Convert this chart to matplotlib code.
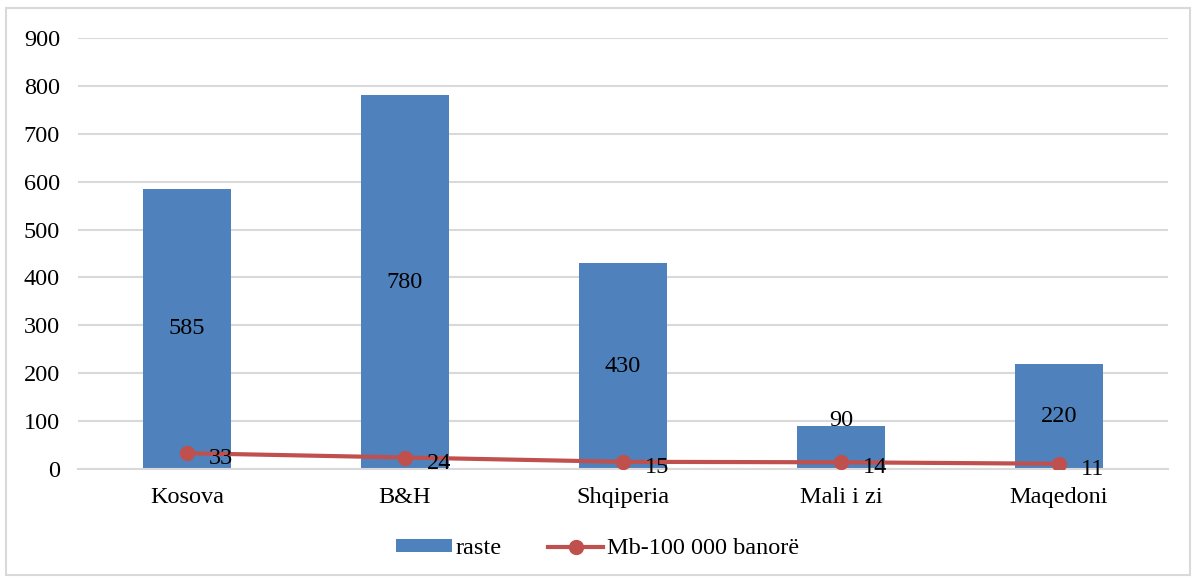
import matplotlib.pyplot as plt
from matplotlib.patches import Rectangle
from matplotlib.lines import Line2D
from matplotlib.patches import Patch

# dati
vendet = ["Kosova", "B&H", "Shqiperia", "Mali i zi", "Maqedoni"]
raste = [585, 780, 430, 90, 220]
mb_100k = [33, 24, 15, 14, 11]

blu = "#4F81BD"
kuq = "#C0504D"
gri = "#D9D9D9"
fs = 17.5

plt.rcParams["font.family"] = ["Liberation Serif", "DejaVu Serif"]

fig = plt.figure(figsize=(11.95, 5.8), dpi=100)
ax = fig.add_axes([78 / 1195, 1 - 469 / 580, (1168 - 78) / 1195, (469 - 38) / 580])

x = range(len(vendet))
ax.bar(x, raste, width=0.4, color=blu, zorder=2)
ax.plot(x, mb_100k, color=kuq, linewidth=3, marker="o", markersize=10, zorder=3)

# etiketat e shtyllave (ne mes), 90 ngrihet mbi vijen
for i, v in enumerate(raste):
    y = v / 2 if v / 2 > 60 else v + 12
    ax.text(i, y, str(v), ha="center", va="center", fontsize=fs, zorder=4)

# etiketat e vijes
for i, v in enumerate(mb_100k):
    ax.annotate(str(v), (i, v), xytext=(16, -4), textcoords="offset points",
                ha="left", va="center", fontsize=fs, zorder=4)

ax.set_ylim(0, 900)
ax.set_yticks(range(0, 901, 100))
ax.set_xlim(-0.5, len(vendet) - 0.5)
ax.set_xticks(list(x))
ax.set_xticklabels(vendet)
ax.tick_params(axis="both", length=0, labelsize=fs)
ax.tick_params(axis="y", pad=13)
ax.tick_params(axis="x", pad=13)
ax.grid(axis="y", color=gri, linewidth=1.5, zorder=0)
for s in ["top", "right", "left"]:
    ax.spines[s].set_visible(False)
ax.spines["bottom"].set_color(gri)
ax.spines["bottom"].set_linewidth(1.5)

handles = [
    Patch(facecolor=blu, label="raste"),
    Line2D([0], [0], color=kuq, linewidth=3, marker="o", markersize=10,
           label="Mb-100 000 banorë"),
]
fig.legend(handles=handles, loc="center", bbox_to_anchor=(0.5, 1 - 549 / 580),
           ncol=2, frameon=False, fontsize=fs, handlelength=2.3,
           handleheight=0.45, columnspacing=1.9, handletextpad=0.15)

# korniza e figures
fig.patches.append(Rectangle((6 / 1195, 1 - 575 / 580), 1184 / 1195, 567 / 580,
                             transform=fig.transFigure, fill=False,
                             edgecolor=gri, linewidth=1.5))

fig.savefig("out.png", dpi=100)
